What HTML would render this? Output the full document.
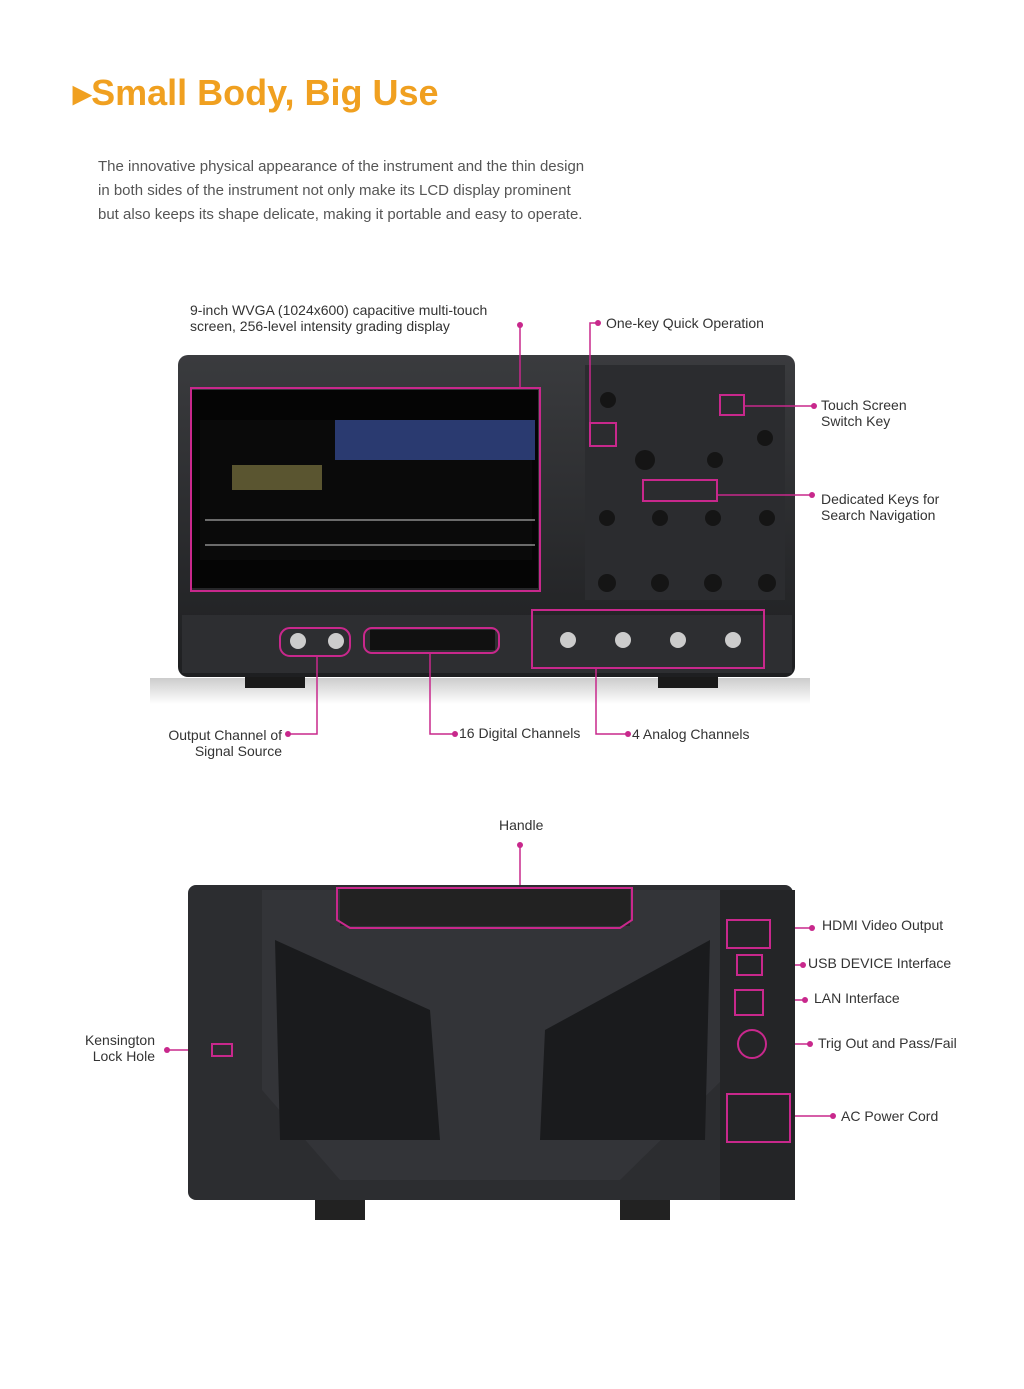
<!DOCTYPE html>
<html><head><meta charset="utf-8"><style>
body{margin:0;width:1024px;height:1389px;background:#fff;position:relative;overflow:hidden;font-family:"Liberation Sans",sans-serif}
.t{position:absolute;color:#333;font-size:14px;line-height:16px;white-space:nowrap}
</style></head><body>
<div style="position:absolute;left:73px;top:72px;color:#f0a020;font-size:36px;font-weight:bold">▸Small Body, Big Use</div>
<div style="position:absolute;left:98px;top:155px;color:#555;font-size:15px;line-height:24px">The innovative physical appearance of the instrument and the thin design<br>in both sides of the instrument not only make its LCD display prominent<br>but also keeps its shape delicate, making it portable and easy to operate.</div>
<svg width="1024" height="1389" style="position:absolute;left:0;top:0">
<defs><linearGradient id="g" x1="0" y1="0" x2="0" y2="1"><stop offset="0" stop-color="#3a3b3e"/><stop offset="1" stop-color="#1e1f21"/></linearGradient>
<linearGradient id="f" x1="0" y1="0" x2="0" y2="1"><stop offset="0" stop-color="#ccc"/><stop offset="1" stop-color="#fff"/></linearGradient></defs>
<rect x="150" y="678" width="660" height="26" fill="url(#f)"/>
<rect x="245" y="668" width="60" height="20" fill="#1a1a1a"/><rect x="658" y="668" width="60" height="20" fill="#1a1a1a"/>
<rect x="178" y="355" width="617" height="322" rx="10" fill="url(#g)"/>
<rect x="192" y="390" width="346" height="198" fill="#050505"/>
<rect x="200" y="420" width="332" height="140" fill="#0a0a0a"/>
<rect x="335" y="420" width="200" height="40" fill="#2a3a70"/>
<rect x="232" y="465" width="90" height="25" fill="#5a5530"/>
<path d="M205 545h330M205 520h330" stroke="#ccc" stroke-width="1"/>
<rect x="585" y="365" width="200" height="235" fill="#2b2c2f"/>
<g fill="#151515"><circle cx="608" cy="400" r="8"/><circle cx="645" cy="460" r="10"/><circle cx="715" cy="460" r="8"/><circle cx="765" cy="438" r="8"/><circle cx="607" cy="518" r="8"/><circle cx="660" cy="518" r="8"/><circle cx="713" cy="518" r="8"/><circle cx="767" cy="518" r="8"/><circle cx="607" cy="583" r="9"/><circle cx="660" cy="583" r="9"/><circle cx="713" cy="583" r="9"/><circle cx="767" cy="583" r="9"/></g>
<rect x="182" y="615" width="610" height="58" fill="#2d2e31"/>
<g fill="#ccc"><circle cx="298" cy="641" r="8"/><circle cx="336" cy="641" r="8"/><circle cx="568" cy="640" r="8"/><circle cx="623" cy="640" r="8"/><circle cx="678" cy="640" r="8"/><circle cx="733" cy="640" r="8"/></g>
<rect x="370" y="630" width="125" height="20" fill="#111"/>
<g fill="none" stroke="#c8288c" stroke-width="2">
<rect x="191" y="388" width="349" height="203"/><rect x="590" y="423" width="26" height="23"/><rect x="720" y="395" width="24" height="20"/><rect x="643" y="480" width="74" height="21"/>
<rect x="280" y="628" width="70" height="28" rx="10"/><rect x="364" y="628" width="135" height="25" rx="8"/><rect x="532" y="610" width="232" height="58"/>
</g>
<g fill="none" stroke="#c8288c" stroke-width="1.5">
<path d="M520 325V388M597 323H590V423M744 406H814M717 495H812M317 657V734H290M430 653V734H455M596 668V734H628"/>
<path d="M520 845V887M770 928H812M762 965H803M763 1000H805M770 1044H810M790 1116H833M167 1050H210"/>
</g>
<g fill="#c8288c"><circle cx="520" cy="325" r="3"/><circle cx="598" cy="323" r="3"/><circle cx="814" cy="406" r="3"/><circle cx="812" cy="495" r="3"/><circle cx="288" cy="734" r="3"/><circle cx="455" cy="734" r="3"/><circle cx="628" cy="734" r="3"/>
<circle cx="520" cy="845" r="3"/><circle cx="812" cy="928" r="3"/><circle cx="803" cy="965" r="3"/><circle cx="805" cy="1000" r="3"/><circle cx="810" cy="1044" r="3"/><circle cx="833" cy="1116" r="3"/><circle cx="167" cy="1050" r="3"/></g>
<rect x="315" y="1150" width="50" height="70" fill="#222"/><rect x="620" y="1150" width="50" height="70" fill="#222"/>
<rect x="188" y="885" width="605" height="315" rx="8" fill="#2c2d30"/>
<path d="M262 890H722L722 1080L620 1180H340L262 1090Z" fill="#333438"/>
<path d="M275 940L430 1010L440 1140L280 1140Z" fill="#1a1b1d"/><path d="M710 940L545 1030L540 1140L705 1140Z" fill="#1a1b1d"/>
<rect x="340" y="888" width="290" height="38" fill="#222"/>
<rect x="720" y="890" width="75" height="310" fill="#242527"/>
<g fill="none" stroke="#c8288c" stroke-width="2">
<path d="M337 888H632V920L620 928H350L337 920Z"/><rect x="727" y="920" width="43" height="28"/><rect x="737" y="955" width="25" height="20"/><rect x="735" y="990" width="28" height="25"/><circle cx="752" cy="1044" r="14"/><rect x="727" y="1094" width="63" height="48"/><rect x="212" y="1044" width="20" height="12"/>
</g>
</svg>
<div class="t" style="left:190px;top:302px">9-inch WVGA (1024x600) capacitive multi-touch<br>screen, 256-level intensity grading display</div>
<div class="t" style="left:606px;top:315px">One-key Quick Operation</div>
<div class="t" style="left:821px;top:397px">Touch Screen<br>Switch Key</div>
<div class="t" style="left:821px;top:491px">Dedicated Keys for<br>Search Navigation</div>
<div class="t" style="left:160px;top:727px;text-align:right;width:122px">Output Channel of<br>Signal Source</div>
<div class="t" style="left:459px;top:725px">16 Digital Channels</div>
<div class="t" style="left:632px;top:726px">4 Analog Channels</div>
<div class="t" style="left:499px;top:817px">Handle</div>
<div class="t" style="left:822px;top:917px">HDMI Video Output</div>
<div class="t" style="left:808px;top:955px">USB DEVICE Interface</div>
<div class="t" style="left:814px;top:990px">LAN Interface</div>
<div class="t" style="left:818px;top:1035px">Trig Out and Pass/Fail</div>
<div class="t" style="left:841px;top:1108px">AC Power Cord</div>
<div class="t" style="left:80px;top:1032px;text-align:right;width:75px">Kensington<br>Lock Hole</div>
</body></html>
